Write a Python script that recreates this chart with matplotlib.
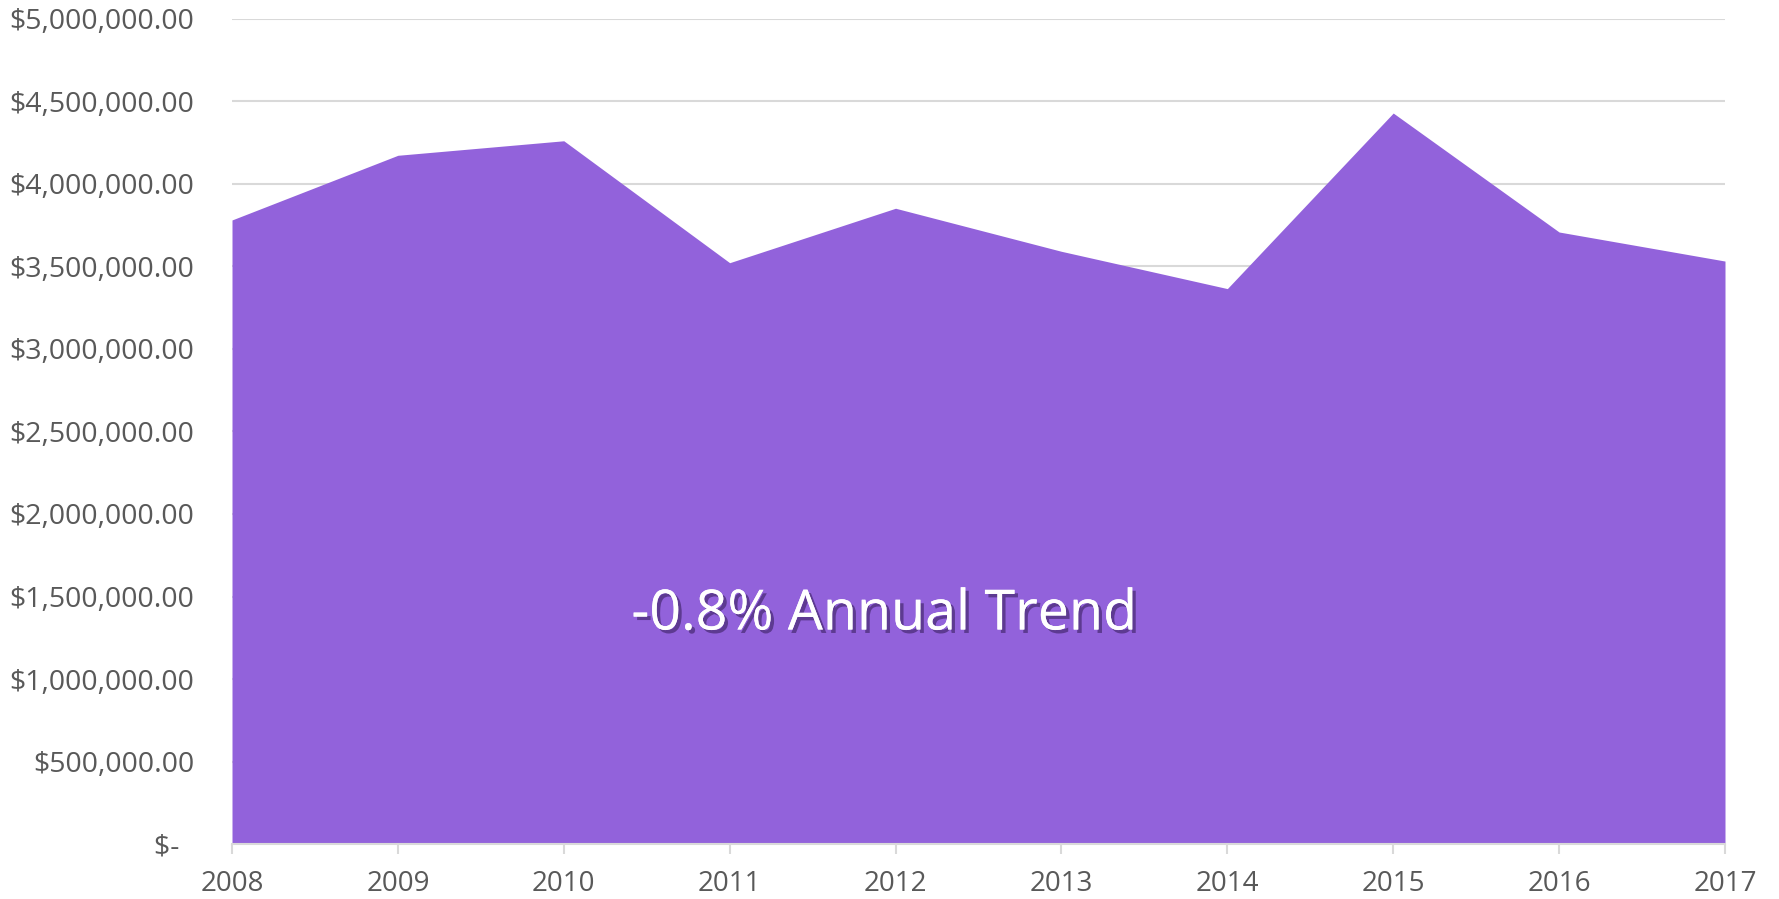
import matplotlib
matplotlib.use("Agg")
import matplotlib.pyplot as plt
import matplotlib.patheffects as pe
from matplotlib.ticker import FuncFormatter, MultipleLocator

years = [2008, 2009, 2010, 2011, 2012, 2013, 2014, 2015, 2016, 2017]
values = [3782000, 4174000, 4262000, 3523000, 3853000, 3592000, 3366000, 4430000, 3709000, 3533000]
annotation = "-0.8% Annual Trend"

plt.rcParams['font.family'] = ['Open Sans', 'DejaVu Sans']

fig = plt.figure(figsize=(17.79, 8.99), dpi=100)
ax = fig.add_axes([232/1779, 1-844/899, (1725-232)/1779, (844-19)/899])

fill_color = '#9262db'
grid_color = '#d9d9d9'
text_color = '#595959'

ax.fill_between(years, values, 0, color=fill_color, linewidth=0, zorder=2)

ax.set_xlim(years[0], years[-1])
ax.set_ylim(0, 5000000)
ax.yaxis.set_major_locator(MultipleLocator(500000))
ax.set_xticks(years)
ax.set_xticklabels([str(y) for y in years])

def fmt(v, pos):
    if v == 0:
        return "$-  "
    return "${:,.2f}".format(v)
ax.yaxis.set_major_formatter(FuncFormatter(fmt))

ax.grid(axis='y', color=grid_color, linewidth=1.5, zorder=1)
ax.set_axisbelow(True)
for s in ['top', 'right', 'left']:
    ax.spines[s].set_visible(False)
ax.spines['bottom'].set_color(grid_color)
ax.spines['bottom'].set_linewidth(1.5)
ax.spines['bottom'].set_zorder(3)

ax.tick_params(axis='y', length=0, pad=27, labelsize=20.5, labelcolor=text_color)
ax.tick_params(axis='x', length=7, width=1.5, color=grid_color, pad=12, labelsize=20, labelcolor=text_color)

txt = ax.text(2011.93, 1300000, annotation, ha='center', va='baseline', fontsize=40,
              color='white', zorder=5)
txt.set_path_effects([pe.withSimplePatchShadow(offset=(2.5, -2.5), shadow_rgbFace='#3a2060', alpha=0.6),
                      pe.Normal()])

fig.savefig("out.png", dpi=100)
